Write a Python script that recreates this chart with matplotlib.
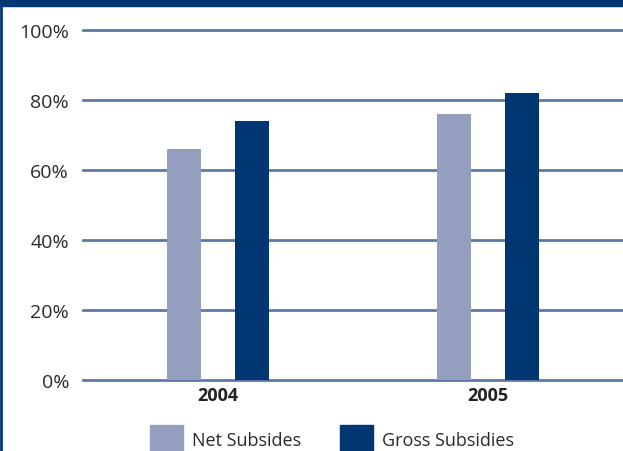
import numpy as np
import matplotlib.pyplot as plt
from matplotlib.patches import Patch, Rectangle
from matplotlib.lines import Line2D

# values (percent)
years = ["2004", "2005"]
net_subsides = [66, 76]
gross_subsidies = [74, 82]
yticks = [0, 20, 40, 60, 80, 100]
ytick_labels = ["0%", "20%", "40%", "60%", "80%", "100%"]

navy = "#003671"
light = "#949fc0"
grid = "#5b7aa3"

plt.rcParams['font.family'] = ['Open Sans', 'DejaVu Sans']

fig = plt.figure(figsize=(6.23, 4.52), dpi=100)
ax = fig.add_axes([83 / 623, 71 / 452, 540 / 623, 350 / 452])

x = np.arange(len(years))
w = 0.125
ax.bar(x - w, net_subsides, w, color=light, zorder=3)
ax.bar(x + w, gross_subsidies, w, color=navy, zorder=3)

for t in yticks:
    ax.axhline(t, color=grid, lw=2, zorder=2, clip_on=False)

ax.set_xlim(-0.5, 1.5)
ax.set_ylim(0, 100)
ax.set_yticks(yticks)
ax.set_yticklabels(ytick_labels, fontsize=14, color="#2a2a2a")
ax.set_xticks(x)
ax.set_xticklabels(years, fontsize=13, fontweight="bold", color="#222222")
ax.tick_params(axis="both", length=0)
ax.tick_params(axis="y", pad=10)
ax.tick_params(axis="x", pad=4)
for s in ax.spines.values():
    s.set_visible(False)

# frame: navy band on top, thin line on the left
fig.patches.append(Rectangle((0, 445 / 452), 1, 7 / 452, transform=fig.transFigure,
                             color=navy, zorder=0))
fig.lines.append(Line2D([1 / 623, 1 / 623], [0, 1], transform=fig.transFigure,
                        color=navy, lw=2))

handles = [Patch(color=light, label="Net Subsides"),
           Patch(color=navy, label="Gross Subsidies")]
fig.legend(handles=handles, ncol=2, loc="upper left",
           bbox_to_anchor=(141 / 623, 35 / 452), frameon=False,
           fontsize=13, handlelength=1.8, handleheight=2.0,
           handletextpad=0.5, columnspacing=2.2, borderpad=0,
           labelcolor="#2a2a2a")

fig.savefig("out.png", dpi=100)
